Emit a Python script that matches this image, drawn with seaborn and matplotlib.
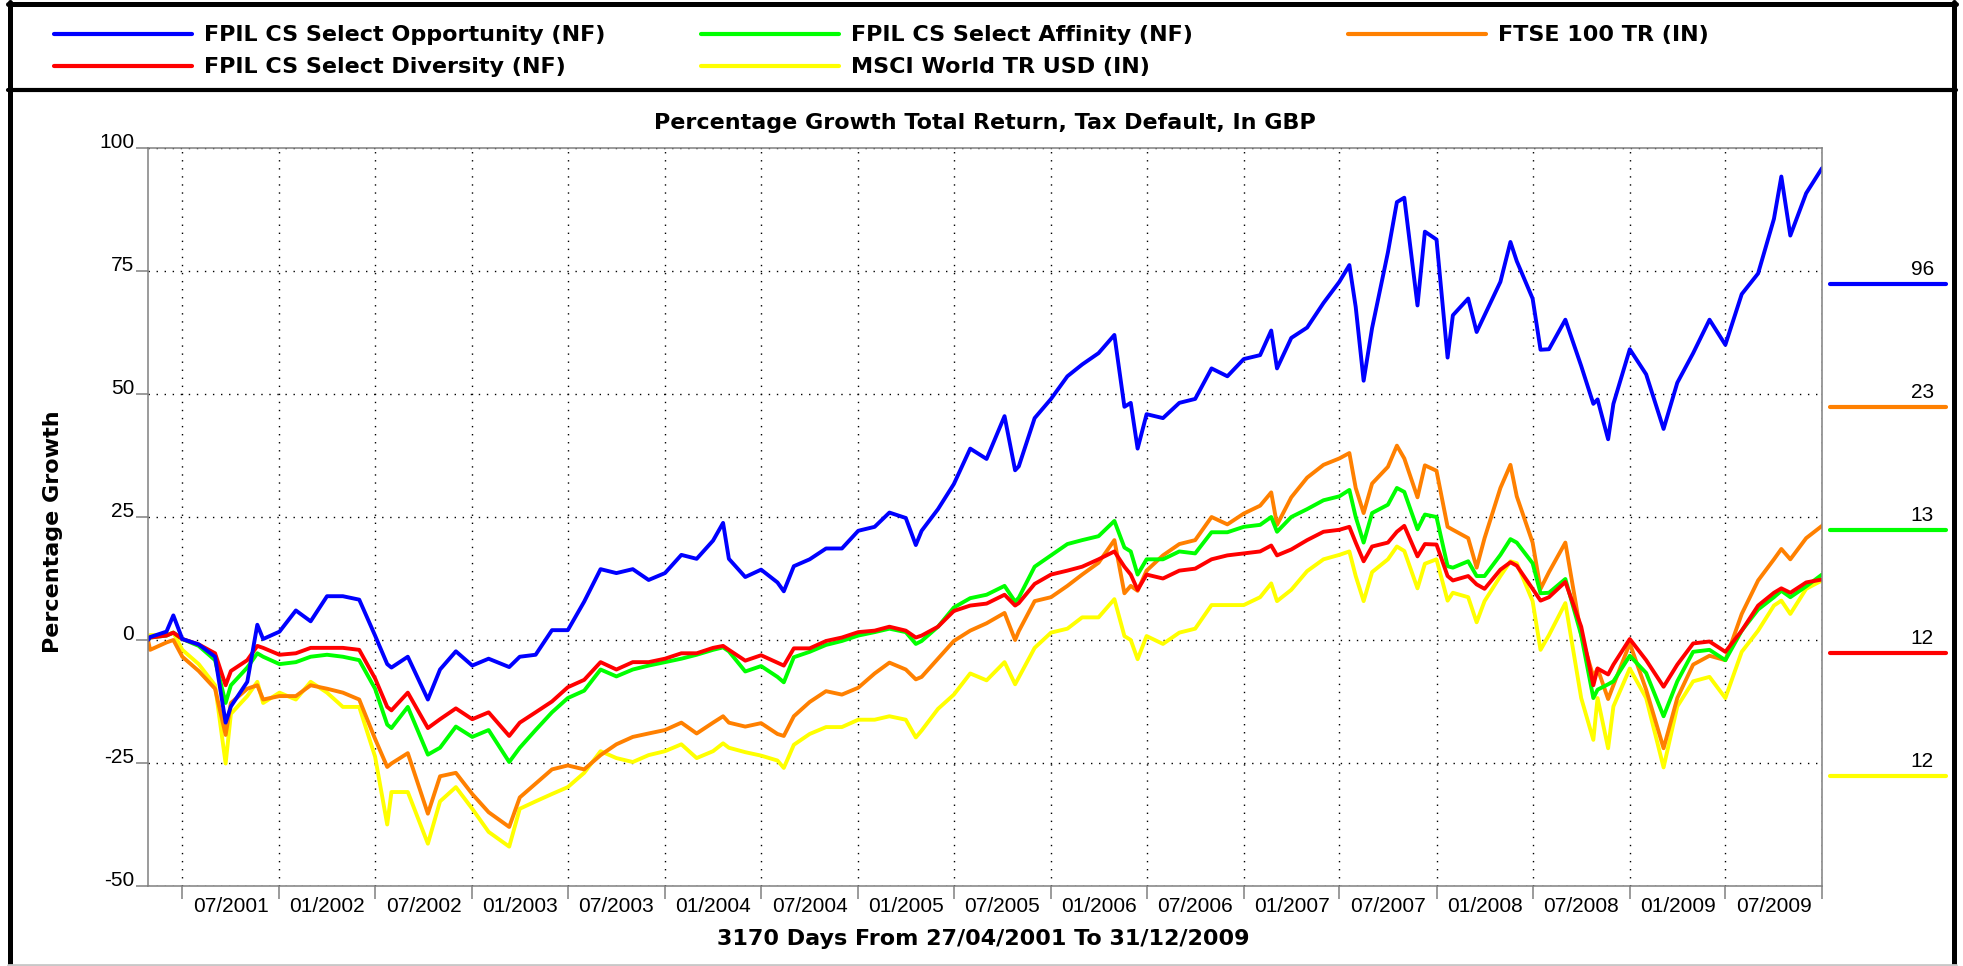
"""
Percentage growth chart (FE style) redrawn with seaborn
"""
import matplotlib
matplotlib.use('Agg')
import numpy as np
import pandas as pd
import matplotlib.pyplot as plt
import matplotlib.dates as mdates
import matplotlib.transforms as mtransforms
from matplotlib.lines import Line2D
from matplotlib.ticker import FixedLocator, FixedFormatter, NullFormatter
import seaborn as sns

# ============================
# data
# ============================
dates = [
    '2001-04-27', '2001-05-01', '2001-06-01', '2001-06-14', '2001-07-01', '2001-08-01',
    '2001-09-01', '2001-09-21', '2001-10-01', '2001-11-01', '2001-11-20', '2001-12-01',
    '2002-01-01', '2002-02-01', '2002-03-01', '2002-04-01', '2002-05-01', '2002-06-01',
    '2002-07-01', '2002-07-24', '2002-08-01', '2002-09-01', '2002-10-09', '2002-11-01', '2002-12-01',
    '2003-01-01', '2003-02-01', '2003-03-12', '2003-04-01', '2003-05-01', '2003-06-01',
    '2003-07-01', '2003-08-01', '2003-09-01', '2003-10-01', '2003-11-01', '2003-12-01',
    '2004-01-01', '2004-02-01', '2004-03-01', '2004-04-01', '2004-04-20', '2004-05-01', '2004-06-01',
    '2004-07-01', '2004-08-01', '2004-08-13', '2004-09-01', '2004-10-01', '2004-11-01', '2004-12-01',
    '2005-01-01', '2005-02-01', '2005-03-01', '2005-04-01', '2005-04-20', '2005-05-01', '2005-06-01',
    '2005-07-01', '2005-08-01', '2005-09-01', '2005-10-05', '2005-10-25', '2005-11-01', '2005-12-01',
    '2006-01-01', '2006-02-01', '2006-03-01', '2006-04-01', '2006-05-01', '2006-05-20', '2006-06-01',
    '2006-06-14', '2006-07-01', '2006-08-01', '2006-09-01', '2006-10-01', '2006-11-01', '2006-12-01',
    '2007-01-01', '2007-02-01', '2007-02-22', '2007-03-05', '2007-04-01', '2007-05-01', '2007-06-01',
    '2007-07-01', '2007-07-20', '2007-08-01', '2007-08-16', '2007-09-01', '2007-10-01', '2007-10-18',
    '2007-11-01', '2007-11-26', '2007-12-10',
    '2008-01-01', '2008-01-22', '2008-02-01', '2008-03-01', '2008-03-17', '2008-04-01', '2008-05-01',
    '2008-05-20', '2008-06-01', '2008-07-01', '2008-07-16', '2008-08-01', '2008-09-01', '2008-10-01',
    '2008-10-24', '2008-11-01', '2008-11-21', '2008-12-01',
    '2009-01-01', '2009-02-01', '2009-03-06', '2009-04-01', '2009-05-01', '2009-06-01', '2009-07-01',
    '2009-08-01', '2009-09-01', '2009-10-01', '2009-10-15', '2009-11-01', '2009-12-01', '2009-12-31',
]

opportunity = [
    0, 0.6, 1.7, 5.0, 0.2, -0.9, -3.4, -16.8, -13.5, -8.5, 3.1, 0.2,
    1.7, 6.0, 3.8, 8.9, 8.9, 8.2, 0.9, -4.9, -5.6, -3.4, -12.1, -6.0, -2.3,
    -5.2, -3.8, -5.5, -3.4, -3.0, 2.0, 2.0, 7.8, 14.4, 13.6, 14.4, 12.2,
    13.6, 17.3, 16.5, 20.2, 23.8, 16.5, 12.8, 14.3, 11.7, 9.9, 15.0, 16.4, 18.6, 18.6,
    22.2, 23.0, 25.9, 24.8, 19.3, 22.2, 26.6, 31.7, 38.9, 36.8, 45.5, 34.5, 35.3, 45.1,
    49.0, 53.6, 56.0, 58.3, 62.0, 47.4, 48.2, 38.9, 45.9, 45.1, 48.2, 49.0, 55.2, 53.6,
    57.1, 57.9, 62.9, 55.2, 61.4, 63.5, 68.5, 72.8, 76.2, 67.7, 52.7, 63.4, 78.8, 89.0, 89.9, 68.0, 83.0,
    81.4, 57.4, 66.0, 69.4, 62.6, 66.0, 72.8, 80.9, 77.0, 69.4, 59.0, 59.1, 65.1, 55.7, 48.0, 48.9, 40.8, 48.0,
    59.1, 54.0, 42.9, 52.3, 58.3, 65.1, 60.0, 70.3, 74.5, 85.6, 94.2, 82.2, 90.8, 95.9,
]

diversity = [
    0, 0.5, 0.9, 1.5, 0.2, -0.9, -2.7, -9.2, -6.3, -4.1, -1.2, -1.6,
    -3.0, -2.7, -1.6, -1.6, -1.6, -2.0, -7.8, -13.6, -14.3, -10.7, -17.9, -16.1, -13.9,
    -16.1, -14.7, -19.5, -16.8, -14.7, -12.5, -9.6, -8.1, -4.5, -6.0, -4.5, -4.5,
    -3.8, -2.7, -2.7, -1.6, -1.2, -2.0, -4.2, -3.1, -4.6, -5.2, -1.7, -1.7, -0.2, 0.5,
    1.6, 1.9, 2.7, 1.9, 0.5, 0.9, 2.7, 5.9, 7.0, 7.4, 9.2, 7.0, 7.5, 11.4,
    13.3, 14.1, 14.9, 16.4, 18.0, 14.9, 13.3, 10.2, 13.3, 12.5, 14.1, 14.5, 16.4, 17.2,
    17.6, 18.0, 19.2, 17.2, 18.4, 20.3, 22.0, 22.4, 23.0, 19.8, 16.0, 19.0, 19.8, 22.0, 23.2, 17.0, 19.5,
    19.4, 13.0, 12.1, 13.0, 11.3, 10.4, 14.3, 15.8, 15.1, 10.4, 8.0, 8.7, 11.8, 2.7, -9.2, -5.8, -7.0, -5.0,
    0.2, -4.1, -9.5, -5.0, -0.7, -0.3, -2.4, 1.9, 7.0, 9.6, 10.5, 9.6, 11.7, 12.3,
]

affinity = [
    0, 0.5, 0.9, 1.5, 0.2, -1.2, -4.1, -12.8, -9.2, -5.6, -2.7, -3.4,
    -4.9, -4.5, -3.4, -3.0, -3.4, -4.1, -9.9, -17.2, -17.9, -13.6, -23.3, -21.9, -17.6,
    -19.7, -18.3, -24.8, -21.9, -18.3, -14.7, -11.8, -10.3, -6.0, -7.4, -6.0, -5.2,
    -4.5, -3.8, -3.0, -2.0, -1.5, -2.3, -6.4, -5.3, -7.5, -8.6, -3.5, -2.4, -1.0, -0.2,
    0.9, 1.6, 2.3, 1.6, -0.8, -0.2, 2.7, 6.6, 8.5, 9.2, 11.0, 7.8, 8.6, 14.9,
    17.2, 19.5, 20.3, 21.1, 24.2, 18.8, 18.0, 13.3, 16.4, 16.4, 18.0, 17.6, 21.9, 21.9,
    23.0, 23.4, 25.0, 22.0, 25.0, 26.6, 28.4, 29.2, 30.5, 25.0, 19.8, 25.8, 27.5, 30.9, 30.1, 22.5, 25.5,
    25.0, 15.0, 14.7, 16.0, 13.0, 13.0, 17.3, 20.5, 19.8, 15.6, 9.5, 9.6, 12.4, 1.0, -11.8, -10.1, -9.0, -8.4,
    -3.2, -6.7, -15.5, -8.4, -2.4, -2.0, -4.1, 1.9, 6.2, 8.7, 10.0, 8.7, 10.9, 13.3,
]

ftse = [
    0, -2.0, -0.5, 0.0, -3.4, -6.3, -9.9, -19.3, -12.8, -9.9, -9.2, -12.1,
    -11.4, -11.4, -9.2, -9.9, -10.7, -12.1, -20.1, -25.8, -25.1, -23.0, -35.3, -27.7, -27.0,
    -31.3, -35.0, -38.0, -32.0, -29.2, -26.3, -25.5, -26.3, -23.4, -21.2, -19.7, -19.0,
    -18.3, -16.8, -19.0, -16.8, -15.5, -16.8, -17.6, -16.9, -19.1, -19.5, -15.5, -12.6, -10.4, -11.1,
    -9.7, -6.8, -4.6, -6.0, -8.0, -7.5, -3.8, -0.2, 1.9, 3.4, 5.5, 0.0, 1.8, 7.9,
    8.7, 11.0, 13.3, 15.7, 20.3, 9.5, 11.0, 10.0, 14.1, 17.2, 19.5, 20.3, 25.0, 23.5,
    25.7, 27.3, 30.0, 23.4, 29.0, 33.0, 35.6, 36.9, 38.0, 30.9, 25.8, 31.8, 35.2, 39.5, 36.9, 29.0, 35.5,
    34.4, 23.0, 22.4, 20.7, 14.7, 20.7, 30.9, 35.6, 29.2, 19.8, 10.4, 13.8, 19.8, 1.0, -7.5, -5.8, -12.0, -9.2,
    -0.7, -10.1, -22.0, -11.8, -5.0, -3.2, -4.1, 5.3, 12.1, 16.4, 18.5, 16.4, 20.7, 23.2,
]

msci = [
    0, 1.0, 1.0, 1.5, -2.0, -4.9, -9.2, -25.1, -15.0, -11.4, -8.5, -12.8,
    -10.7, -12.1, -8.5, -10.7, -13.6, -13.6, -23.7, -37.5, -30.9, -30.9, -41.4, -32.8, -29.9,
    -34.3, -39.0, -42.0, -34.3, -32.8, -31.3, -29.9, -27.0, -22.6, -24.0, -24.8, -23.4,
    -22.6, -21.2, -24.0, -22.6, -21.0, -21.9, -22.8, -23.5, -24.5, -26.0, -21.3, -19.1, -17.7, -17.7,
    -16.2, -16.2, -15.5, -16.2, -19.8, -18.4, -14.0, -11.1, -6.8, -8.2, -4.5, -9.0, -7.6, -1.6,
    1.5, 2.3, 4.6, 4.6, 8.3, 0.8, 0.0, -3.9, 0.8, -0.8, 1.5, 2.3, 7.1, 7.1,
    7.1, 8.7, 11.5, 7.9, 10.2, 14.0, 16.4, 17.3, 18.0, 13.0, 7.9, 13.8, 16.4, 19.0, 18.1, 10.5, 15.5,
    16.4, 8.0, 9.6, 8.7, 3.6, 7.9, 13.0, 16.0, 15.6, 7.9, -2.0, 1.0, 7.5, -11.8, -20.3, -11.8, -22.0, -13.5,
    -5.8, -11.8, -25.9, -13.5, -8.4, -7.5, -11.8, -2.4, 1.9, 7.0, 8.0, 5.3, 10.4, 12.1,
]

names = ['FPIL CS Select Opportunity (NF)', 'FPIL CS Select Diversity (NF)',
         'FPIL CS Select Affinity (NF)', 'MSCI World TR USD (IN)', 'FTSE 100 TR (IN)']
values = [opportunity, diversity, affinity, msci, ftse]
colors = ['#0000ff', '#ff0000', '#00ff00', '#ffff00', '#ff8000']

y_ticks = [-50, -25, 0, 25, 50, 75, 100]
start_date = '2001-04-27'
end_date = '2009-12-31'

title = 'Percentage Growth Total Return, Tax Default, In GBP'
x_label = '3170 Days From 27/04/2001 To 31/12/2009'
y_label = 'Percentage Growth'

# ============================
# figure setup
# ============================
W, H = 1963, 966
sns.set_style('white')
plt.rcParams['font.family'] = ['Liberation Sans', 'DejaVu Sans']
plt.rcParams['text.color'] = 'black'
plt.rcParams['xtick.color'] = 'black'
plt.rcParams['ytick.color'] = 'black'
plt.rcParams['axes.labelcolor'] = 'black'
BOLD = ['DejaVu Sans', 'Liberation Sans']
GRAY = '#808080'


def fx(px):
    return px / W


def fy(py):
    return 1 - py / H


fig = plt.figure(figsize=(W / 100, H / 100), dpi=100)
ax = fig.add_axes([fx(148), fy(886), fx(1822) - fx(148), fy(148) - fy(886)])

df = pd.DataFrame({'date': pd.to_datetime(dates)})
for name, vals in zip(names, values):
    df[name] = vals
long_df = df.melt(id_vars='date', var_name='series', value_name='growth')

palette = dict(zip(names, colors))
draw_order = [names[3], names[4], names[2], names[1], names[0]]   # blue on top

sns.lineplot(data=long_df, x='date', y='growth', hue='series', hue_order=draw_order,
             palette=palette, estimator=None, linewidth=2.8, legend=False, ax=ax)

# ============================
# axes
# ============================
t0, t1 = pd.Timestamp(start_date), pd.Timestamp(end_date)
ax.set_xlim(t0, t1)
ax.set_ylim(-50, 100)

bounds = list(pd.date_range('2001-07-01', '2009-07-01', freq='6MS'))
tick_dates = bounds + [t1]
mids = [a + (b - a) / 2 for a, b in zip(tick_dates[:-1], tick_dates[1:])]
ax.xaxis.set_major_locator(FixedLocator(mdates.date2num(tick_dates)))
ax.xaxis.set_major_formatter(NullFormatter())
ax.xaxis.set_minor_locator(FixedLocator(mdates.date2num(mids)))
ax.xaxis.set_minor_formatter(FixedFormatter([d.strftime('%m/%Y') for d in bounds]))

ax.set_yticks(y_ticks)
ax.set_yticklabels([str(v) for v in y_ticks])
for lab in ax.get_yticklabels():
    lab.set_verticalalignment('baseline')

ax.tick_params(axis='x', which='major', bottom=True, length=9, width=1.1, color=GRAY)
ax.tick_params(axis='x', which='minor', bottom=True, length=0, pad=8, labelsize=15,
               labelcolor='black')
ax.tick_params(axis='y', which='major', left=True, length=9, width=1.1, color=GRAY,
               pad=1, labelsize=15, labelcolor='black')

ax.grid(True, which='major', axis='both', color='black',
        linestyle=(0, (1, 4.8)), linewidth=1.0)
ax.set_axisbelow(True)
for sp in ax.spines.values():
    sp.set_visible(True)
    sp.set_color(GRAY)
    sp.set_linewidth(1.1)
ax.set_xlabel('')
ax.set_ylabel('')

# ============================
# texts
# ============================
fig.text(fx(985), fy(123), title, ha='center', va='center', color='black',
         fontsize=16, fontweight='bold', family=BOLD)
fig.text(fx(983), fy(939), x_label, ha='center', va='center', color='black',
         fontsize=16, fontweight='bold', family=BOLD)
fig.text(fx(53), fy(532), y_label, ha='center', va='center', rotation=90, color='black',
         fontsize=16, fontweight='bold', family=BOLD)

# legend (manual grid, 3 columns x 2 rows)
legend_slots = {names[0]: (54, 34), names[1]: (54, 66),
                names[2]: (701, 34), names[3]: (701, 66),
                names[4]: (1348, 34)}
for name, color in zip(names, colors):
    x0, y0 = legend_slots[name]
    fig.add_artist(Line2D([fx(x0), fx(x0 + 138)], [fy(y0), fy(y0)], color=color,
                          linewidth=3.0, solid_capstyle='round', transform=fig.transFigure))
    fig.text(fx(x0 + 150), fy(y0 + 7), name, ha='left', va='baseline', color='black',
             fontsize=16, fontweight='bold', family=BOLD)

# end values on the right, sorted high to low
ends = sorted([(vals[-1], color) for vals, color in zip(values, colors)], reverse=True)
trans = mtransforms.blended_transform_factory(fig.transFigure, ax.transData)
for i, (val, color) in enumerate(ends):
    yv = 75 - 25 * i - 2.55
    fig.add_artist(Line2D([fx(1830), fx(1946)], [yv, yv], color=color, linewidth=3.0,
                          solid_capstyle='round', transform=trans))
    fig.text(fx(1934), yv + 1.0, f'{val:.0f}', ha='right', va='bottom', color='black',
             fontsize=15, transform=trans)

# frame
fig.add_artist(Line2D([fx(9.5), fx(9.5)], [fy(2), fy(966)], color='black', linewidth=3.6))
fig.add_artist(Line2D([fx(1954), fx(1954)], [fy(2), fy(966)], color='black', linewidth=3.6))
fig.add_artist(Line2D([fx(8), fx(1956)], [fy(4), fy(4)], color='black', linewidth=3.6))
fig.add_artist(Line2D([fx(8), fx(1956)], [fy(90), fy(90)], color='black', linewidth=3.0))
fig.add_artist(Line2D([fx(8), fx(1956)], [fy(964.5), fy(964.5)], color='#c8c8c8', linewidth=2.0))

fig.savefig('out.png', dpi=100, facecolor='white')
plt.close(fig)
